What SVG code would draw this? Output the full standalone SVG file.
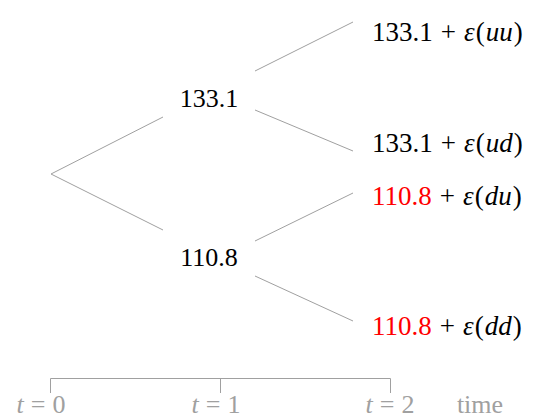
<svg xmlns="http://www.w3.org/2000/svg" width="534" height="419" viewBox="0 0 534 419">
<style>
.e{stroke:#a0a0a0;stroke-width:1;fill:none}
.t{font-family:'Liberation Serif','Times New Roman',serif;font-size:26px;fill:#000}
.lab{font-size:27px}
.it{font-style:italic}
.r{fill:#ff0000}
.g{fill:#a0a0a0}
</style>
<rect width="534" height="419" fill="#fff"/>
<g id="connectors">
<line class="e" x1="51" y1="174" x2="163" y2="117"/>
<line class="e" x1="51" y1="174" x2="163" y2="230"/>
<line class="e" x1="255" y1="71" x2="353" y2="22"/>
<line class="e" x1="255" y1="110" x2="353" y2="151"/>
<line class="e" x1="255" y1="241" x2="353" y2="193"/>
<line class="e" x1="255" y1="276" x2="353" y2="321"/>
</g>
<g id="n1"><text class="t" x="209" y="107" text-anchor="middle">133.1</text></g>
<g id="n2"><text class="t" x="209" y="266" text-anchor="middle">110.8</text></g>
<g id="uu"><text class="t lab" x="372" y="41">133.1<tspan dx="8">+</tspan><tspan dx="8" class="it">ε</tspan><tspan dx="1">(</tspan><tspan dx="1" class="it">uu</tspan><tspan dx="1">)</tspan></text></g>
<g id="ud"><text class="t lab" x="372" y="152">133.1<tspan dx="8">+</tspan><tspan dx="8" class="it">ε</tspan><tspan dx="1">(</tspan><tspan dx="1" class="it">ud</tspan><tspan dx="1">)</tspan></text></g>
<g id="du"><text class="t lab" x="372" y="205"><tspan class="r">110.8</tspan><tspan dx="8">+</tspan><tspan dx="8" class="it">ε</tspan><tspan dx="1">(</tspan><tspan dx="1" class="it">du</tspan><tspan dx="1">)</tspan></text></g>
<g id="dd"><text class="t lab" x="372" y="335"><tspan class="r">110.8</tspan><tspan dx="8">+</tspan><tspan dx="8" class="it">ε</tspan><tspan dx="1">(</tspan><tspan dx="1" class="it">dd</tspan><tspan dx="1">)</tspan></text></g>
<g id="timeline">
<path class="e" d="M50.5 393V378.5H390.5V393M220.5 378.5V393"/>
<text class="t g" x="41" y="413" text-anchor="middle"><tspan class="it">t</tspan><tspan dx="7">=</tspan><tspan dx="7">0</tspan></text>
<text class="t g" x="216" y="413" text-anchor="middle"><tspan class="it">t</tspan><tspan dx="7">=</tspan><tspan dx="7">1</tspan></text>
<text class="t g" x="390" y="413" text-anchor="middle"><tspan class="it">t</tspan><tspan dx="7">=</tspan><tspan dx="7">2</tspan></text>
<text class="t g" x="480" y="413" text-anchor="middle">time</text>
</g>
</svg>
